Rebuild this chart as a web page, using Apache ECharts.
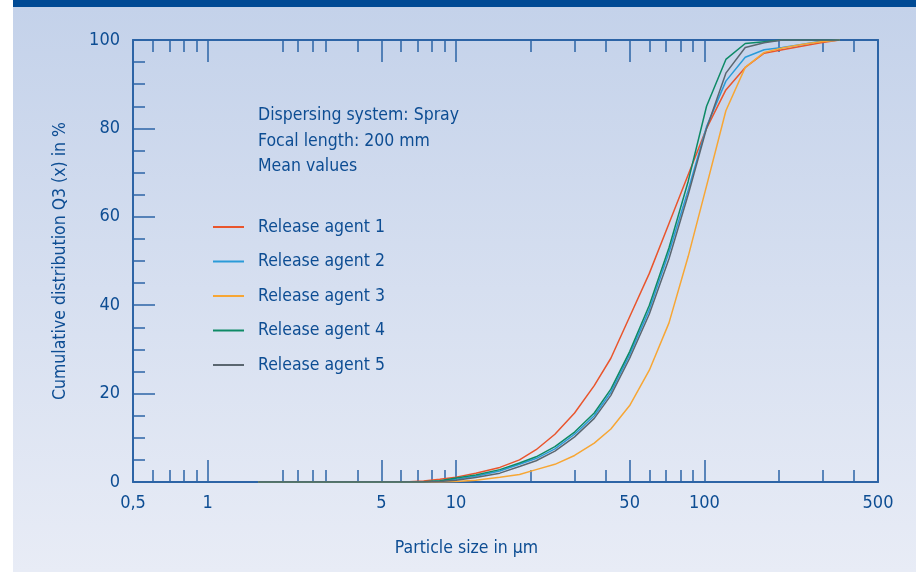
<!DOCTYPE html>
<html>
<head>
<meta charset="utf-8">
<script src="https://cdn.jsdelivr.net/npm/echarts@6/dist/echarts.min.js"></script>
<style>
  html, body { margin: 0; padding: 0; background: #fff; }
  #bg { position: absolute; left: 13px; top: 0; width: 903px; height: 565px;
        border-top: 7px solid #004a95;
        background: linear-gradient(#c4d2ea, #e8ecf6); }
  #chart { position: absolute; left: 0; top: 0; width: 916px; height: 572px; }
</style>
</head>
<body>
<div id="bg"></div>
<div id="chart"></div>
<script>
// particle size classes in µm
const sizes = [1.6, 1.8, 2.2, 2.6, 3.0, 3.6, 4.4, 5.2, 6.2, 7.4, 8.6, 10, 12, 15, 18, 21, 25, 30,
               36, 42, 50, 60, 72, 86, 102, 122, 146, 174, 206, 246, 294, 350];
// Q3 in %
const agent1 = [0, 0, 0, 0, 0, 0, 0, 0, 0, 0.2, 0.6, 1.1, 2.0, 3.3, 5.0, 7.3, 10.8, 15.6,
                21.8, 28, 37.4, 47.2, 58.5, 69.5, 80, 88.7, 93.8, 97.0, 97.8, 98.6, 99.4, 100];
const agent2 = [0, 0, 0, 0, 0, 0, 0, 0, 0, 0, 0.2, 0.6, 1.3, 2.5, 4.0, 5.3, 7.5, 10.8,
                15, 20.3, 28.8, 39, 52, 66, 80.4, 90.7, 96.1, 97.8, 98.3, 99, 99.7, 100];
const agent3 = [0, 0, 0, 0, 0, 0, 0, 0, 0, 0, 0, 0.1, 0.4, 1.1, 1.7, 2.8, 4.0, 6.0,
                8.8, 12.0, 17.3, 25.3, 36, 51, 67, 84, 93.8, 97.2, 98.2, 99, 99.6, 100];
const agent4 = [0, 0, 0, 0, 0, 0, 0, 0, 0, 0.05, 0.3, 0.9, 1.6, 2.8, 4.3, 5.7, 8.0, 11.3,
                15.6, 21, 29.5, 40, 53, 68, 85, 95.6, 99.2, 99.6, 100, 100, 100, 100];
const agent5 = [0, 0, 0, 0, 0, 0, 0, 0, 0, 0, 0.1, 0.4, 1.0, 2.0, 3.5, 4.8, 7.0, 10.2,
                14.4, 19.6, 28, 38, 50.5, 65, 80, 92.5, 98.3, 99.4, 100, 100, 100, 100];
const names = ['Release agent 1', 'Release agent 2', 'Release agent 3', 'Release agent 4', 'Release agent 5'];
const colors = ['#e9552c', '#2a9bd8', '#f7a634', '#0e8a66', '#5a6670'];

const xLabels = [0.5, 1, 5, 10, 50, 100, 500];
const longTicks = [1, 5, 10, 50, 100];
const shortTicks = [0.6, 0.7, 0.8, 0.9, 2, 2.3, 2.65, 3, 4, 6, 7, 8, 9, 20, 30, 40, 60, 70, 80, 90, 200, 300, 400];
const infoLines = ['Dispersing system: Spray', 'Focal length: 200 mm', 'Mean values'];

const font = '"DejaVu Sans Condensed", "DejaVu Sans", sans-serif';
const textColor = '#0d4d93';
const axisColor = '#2d64a6';

// helper for the tick-only x axes
function tickAxis(pos, ticks, len, showLine) {
  return {
    type: 'log', position: pos, min: 0.5, max: 500, logBase: 10,
    axisLine: { show: showLine, lineStyle: { color: axisColor, width: 2 } },
    axisTick: { show: true, inside: true, length: len, customValues: ticks,
                lineStyle: { color: axisColor, width: 1.5 } },
    axisLabel: { show: false },
    splitLine: { show: false }
  };
}

const chart = echarts.init(document.getElementById('chart'));
const xMain = tickAxis('bottom', shortTicks, 12, true);
xMain.axisLabel = {
  show: true, customValues: xLabels, margin: 12,
  color: textColor, fontSize: 18, fontFamily: font,
  formatter: v => String(v).replace('.', ',')
};
xMain.name = 'Particle size in µm';
xMain.nameLocation = 'middle';
xMain.nameGap = 57;
// name sits left of the plot centre in the original
xMain.nameTextStyle = { color: textColor, fontSize: 17.5, fontFamily: font, padding: [0, 78, 0, 0] };

chart.setOption({
  animation: false,
  title: {
    text: infoLines.join('\n'), left: 258, top: 103, padding: 0,
    textStyle: { color: textColor, fontSize: 17.5, fontWeight: 'normal', fontFamily: font, lineHeight: 25.5 }
  },
  legend: {
    orient: 'vertical', left: 213, top: 217, padding: 0,
    itemWidth: 31, itemHeight: 2, itemGap: 14.5, icon: 'rect',
    data: names,
    textStyle: { color: textColor, fontSize: 17.5, fontFamily: font, lineHeight: 20, padding: [0, 0, 0, 9] }
  },
  grid: { left: 133, right: 38, top: 40, bottom: 90 },
  xAxis: [
    xMain,
    tickAxis('bottom', longTicks, 22, false),
    tickAxis('top', shortTicks, 12, true),
    tickAxis('top', longTicks, 22, false)
  ],
  yAxis: [
    {
      type: 'value', position: 'left', min: 0, max: 100, interval: 20,
      axisLine: { show: true, lineStyle: { color: axisColor, width: 2 } },
      axisTick: { show: true, inside: true, length: 22, lineStyle: { color: axisColor, width: 1.5 } },
      minorTick: { show: true, splitNumber: 4, length: 12, lineStyle: { color: axisColor, width: 1.5 } },
      axisLabel: { margin: 13, color: textColor, fontSize: 18, fontFamily: font },
      splitLine: { show: false },
      name: 'Cumulative distribution Q3 (x) in %', nameLocation: 'middle', nameGap: 64,
      nameTextStyle: { color: textColor, fontSize: 17.5, fontFamily: font }
    },
    {
      type: 'value', position: 'right', min: 0, max: 100,
      axisLine: { show: true, lineStyle: { color: axisColor, width: 2 } },
      axisTick: { show: false }, axisLabel: { show: false }, splitLine: { show: false }
    }
  ],
  series: [agent1, agent2, agent3, agent4, agent5].map((vals, i) => ({
    name: names[i], type: 'line', xAxisIndex: 0, yAxisIndex: 0,
    showSymbol: false, symbol: 'none', color: colors[i],
    lineStyle: { width: 1.5, color: colors[i] },
    data: sizes.map((s, k) => [s, vals[k]])
  }))
});
</script>
</body>
</html>
